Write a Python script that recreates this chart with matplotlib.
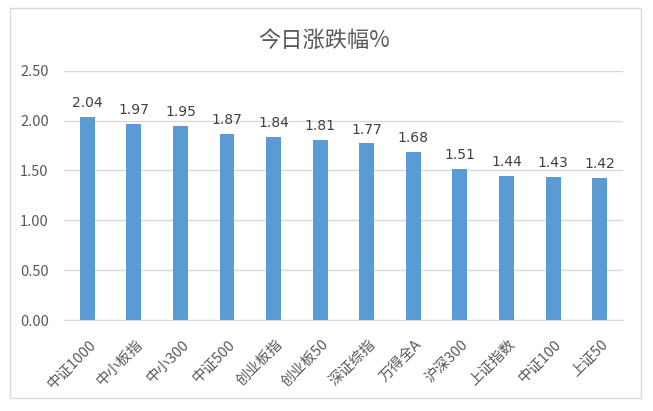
import matplotlib.pyplot as plt
from matplotlib.patches import Rectangle
from matplotlib.ticker import FormatStrFormatter
import matplotlib.transforms as mtransforms

plt.rcParams['font.family'] = ['Noto Sans CJK SC', 'DejaVu Sans']

categories = ['中证1000', '中小板指', '中小300', '中证500', '创业板指', '创业板50',
              '深证综指', '万得全A', '沪深300', '上证指数', '中证100', '上证50']
values = [2.04, 1.97, 1.95, 1.87, 1.84, 1.81, 1.77, 1.68, 1.51, 1.44, 1.43, 1.42]
yticks = [0.0, 0.5, 1.0, 1.5, 2.0, 2.5]

fig = plt.figure(figsize=(6.53, 4.11), dpi=100)
ax = fig.add_axes([0.098, 0.2214, 0.856, 0.6066])

# outer frame of the chart
fig.patches.append(Rectangle((10 / 653, 1 - 398 / 411), 631 / 653, 390 / 411,
                             transform=fig.transFigure, fill=False,
                             edgecolor='#d9d9d9', linewidth=1))

x = range(len(categories))
bars = ax.bar(x, values, width=0.32, color='#5b9bd5', zorder=3)
for b, v in zip(bars, values):
    ax.text(b.get_x() + b.get_width() / 2, v + 0.07, '%.2f' % v,
            ha='center', va='bottom', fontsize=10, color='#404040',
            family=['DejaVu Sans'])

ax.set_xlim(-0.5, len(categories) - 0.5)
ax.set_ylim(0, 2.5)
ax.set_yticks(yticks)
ax.yaxis.set_major_formatter(FormatStrFormatter('%.2f'))
ax.grid(axis='y', color='#d9d9d9', linewidth=1, zorder=0)
for s in ['top', 'right', 'left']:
    ax.spines[s].set_visible(False)
ax.spines['bottom'].set_color('#d9d9d9')
ax.tick_params(axis='both', length=0, colors='#595959', labelsize=10.5)
ax.tick_params(axis='y', pad=11)

ax.set_xticks(list(x))
ax.set_xticklabels(categories, rotation=45, ha='right', va='top',
                   rotation_mode='anchor', fontsize=10.5, color='#595959')
offset = mtransforms.ScaledTranslation(1 / 72, -9 / 72, fig.dpi_scale_trans)
for lbl in ax.get_xticklabels():
    lbl.set_transform(lbl.get_transform() + offset)

fig.text(0.497, 1 - 41 / 411, '今日涨跌幅%', ha='center', va='center',
         fontsize=16, color='#595959')

fig.savefig('out.png', dpi=100)
